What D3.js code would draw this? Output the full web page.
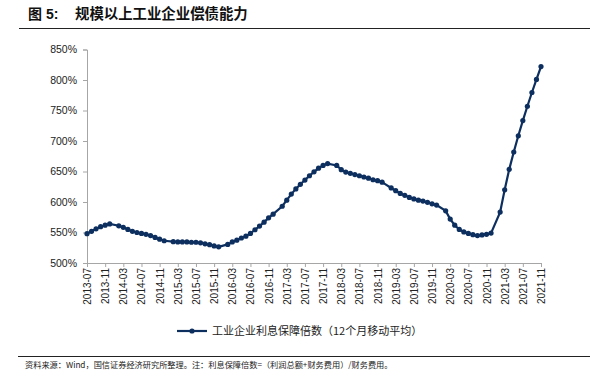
<!DOCTYPE html>
<html>
<head>
<meta charset="utf-8">
<script src="https://cdn.jsdelivr.net/npm/d3@7"></script>
<style>
    body { margin: 0; background: #fff; }
    svg { display: block; font-family: "Liberation Sans", Arial, "Noto Sans CJK SC", sans-serif; }
</style>
</head>
<body>
<svg id="chart" width="590" height="391"></svg>
<script>
// Chart data: 12-month moving average of interest coverage ratio (%), Jan values not published
var startMonth = new Date(2013, 6, 1);
var endMonth = new Date(2021, 10, 1);
var coverage = [
    548, 552, 556, 559.5, 562, 564,                                             // 2013-07..12
    null, 561, 558.5, 555, 552, 550, 548.5, 547, 545, 542, 539, 536.5,          // 2014
    null, 535, 534.5, 534.5, 534.5, 534, 534, 533, 531.5, 530, 528, 526.5,      // 2015
    null, 530.5, 534.5, 537.5, 541, 544, 548.5, 554.5, 560.5, 567, 574, 580,    // 2016
    null, 593, 603, 613, 621.5, 629, 636, 643, 649.5, 655.5, 660, 663,          // 2017
    null, 660, 653, 649, 647, 645, 643, 641, 639, 636.5, 635, 632.5,            // 2018
    null, 623, 618.5, 614, 611, 607.5, 605, 603, 601.5, 599.5, 597, 595,        // 2019
    null, 585.5, 572, 562, 555, 551, 548.5, 546.5, 545, 546, 547, 549,          // 2020
    null, 583.5, 620, 653.5, 682, 708.5, 733.5, 757, 779.5, 801, 822            // 2021-01..11
];
var yTicks = [500, 550, 600, 650, 700, 750, 800, 850];
var titleNo = "图 5:";
var titleText = "规模以上工业企业偿债能力";
var legendText = "工业企业利息保障倍数（12个月移动平均）";
var sourceText = "资料来源：Wind，国信证券经济研究所整理。注：利息保障倍数=（利润总额+财务费用）/财务费用。";

var lineColor = "#0d2f5f";
var axisColor = "#a6a6a6";

var months = d3.timeMonth.range(startMonth, d3.timeMonth.offset(endMonth, 1));
var fmt = d3.timeFormat("%Y-%m");
var data = months.map(function (m, i) { return { month: fmt(m), value: coverage[i] }; });
var tickMonths = data.filter(function (d, i) { return i % 4 === 0; }).map(function (d) { return d.month; });

var svg = d3.select("#chart");

// Title block
svg.append("text")
    .attr("x", 28).attr("y", 19)
    .attr("font-size", "14px").attr("font-weight", "bold").attr("fill", "#111")
    .text(titleNo);
svg.append("text")
    .attr("x", 75).attr("y", 19)
    .attr("font-family", "'Noto Sans CJK SC', sans-serif")
    .attr("font-size", "14.4px").attr("font-weight", "bold").attr("fill", "#111")
    .text(titleText);
svg.append("line")
    .attr("x1", 19).attr("x2", 590).attr("y1", 28.5).attr("y2", 28.5)
    .attr("stroke", "#222").attr("stroke-width", 1.2);

// Scales
var x = d3.scalePoint()
    .domain(data.map(function (d) { return d.month; }))
    .range([87, 541]);
var y = d3.scaleLinear()
    .domain([500, 850])
    .range([263, 49.5]);

// Y axis
var yAxis = svg.append("g")
    .attr("transform", "translate(87,0)")
    .call(d3.axisLeft(y).tickValues(yTicks).tickSize(4).tickPadding(6)
        .tickFormat(function (d) { return d + "%"; }));
yAxis.select(".domain").attr("stroke", axisColor);
yAxis.selectAll(".tick line").attr("stroke", axisColor);
yAxis.selectAll(".tick text")
    .attr("font-size", "10.5px").attr("fill", "#222")
    .attr("font-family", "'Liberation Sans', Arial, sans-serif");

// X axis
var xAxis = svg.append("g")
    .attr("transform", "translate(0,263)")
    .call(d3.axisBottom(x).tickValues(tickMonths).tickSize(4).tickSizeOuter(0));
xAxis.select(".domain").attr("stroke", axisColor);
xAxis.selectAll(".tick line").attr("stroke", axisColor);
xAxis.selectAll(".tick text")
    .attr("font-size", "10px").attr("fill", "#222")
    .attr("font-family", "'Liberation Sans', Arial, sans-serif")
    .attr("transform", "rotate(-90)")
    .attr("text-anchor", "end")
    .attr("x", -5).attr("y", 0).attr("dy", "0.35em");

// Series line (gaps for missing January are bridged, as in the source)
var valid = data.filter(function (d) { return d.value !== null; });
var line = d3.line()
    .x(function (d) { return x(d.month); })
    .y(function (d) { return y(d.value); });
svg.append("path")
    .datum(valid)
    .attr("d", line)
    .attr("fill", "none")
    .attr("stroke", lineColor)
    .attr("stroke-width", 2.2);
svg.selectAll(".dot")
    .data(valid)
    .enter()
    .append("circle")
    .attr("class", "dot")
    .attr("cx", function (d) { return x(d.month); })
    .attr("cy", function (d) { return y(d.value); })
    .attr("r", 2.6)
    .attr("fill", lineColor);

// Legend
var legend = svg.append("g").attr("transform", "translate(177,331)");
legend.append("line")
    .attr("x1", 0).attr("x2", 30).attr("y1", 0).attr("y2", 0)
    .attr("stroke", lineColor).attr("stroke-width", 2.2);
legend.append("circle")
    .attr("cx", 15).attr("cy", 0).attr("r", 2.6).attr("fill", lineColor);
legend.append("text")
    .attr("x", 35).attr("y", 0).attr("dy", "0.36em")
    .attr("font-family", "'Noto Sans CJK SC', sans-serif")
    .attr("font-size", "11px").attr("fill", "#222")
    .text(legendText);

// Footer
svg.append("line")
    .attr("x1", 18).attr("x2", 590).attr("y1", 356.5).attr("y2", 356.5)
    .attr("stroke", "#222").attr("stroke-width", 1.2);
svg.append("text")
    .attr("x", 25).attr("y", 368)
    .attr("font-family", "'Noto Sans CJK SC', sans-serif")
    .attr("font-size", "8.2px").attr("fill", "#222")
    .text(sourceText);
</script>
</body>
</html>
